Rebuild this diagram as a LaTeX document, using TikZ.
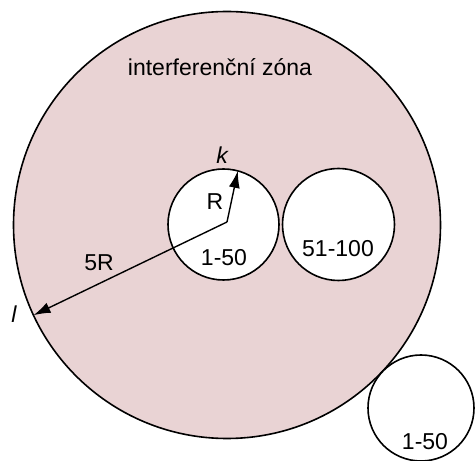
\documentclass[tikz,border=0pt]{standalone}
\usepackage{fontspec}
\setmainfont{Liberation Sans}
\usepackage{tikz}
\usetikzlibrary{arrows.meta, positioning, calc}

\definecolor{zonepink}{RGB}{233,211,212}

\begin{document}
\begin{tikzpicture}[
  x=1pt, y=1pt,
  zone/.style    = {draw, circle, line width=1.6pt, inner sep=0pt, outer sep=0pt},
  arrow/.style   = {-{Latex[length=17pt, width=11pt]}, line width=1.4pt},
  label/.style   = {font=\fontsize{23}{27}\selectfont, inner sep=0pt},
  var/.style     = {font=\fontsize{23}{27}\selectfont\itshape, inner sep=0pt}
]
\useasboundingbox (0,0) rectangle (475,461);

% ── Zones ────────────────────────────────────────────────────────────────────
\node[zone, fill=zonepink, minimum size=427pt] (big)   at (227,236)   {};
\node[zone, fill=white,    minimum size=111pt] (zone1) at (223.5,236.5) {};
\node[zone, fill=white,    minimum size=112pt] (zone2) at (338.5,236.5) {};
\node[zone, fill=white,    minimum size=106pt] (zone3) at (421,53)    {};
\coordinate (o) at (227,239);

% ── Labels ───────────────────────────────────────────────────────────────────
\node[label] (title) at (220,394) {interferenční zóna};
\node[label] (ch1)   at (224,203) {1-50};
\node[label] (ch2)   at (338,212) {51-100};
\node[label] (ch3)   at (425,19)  {1-50};
\node[label] (r)     at (215,259) {R};
\node[label] (r5)    at (99,198)  {5R};
\node[var]   (k)     at (222,306) {k};
\node[var]   (l)     at (14,147)  {l};

% ── Radii ────────────────────────────────────────────────────────────────────
\draw[arrow] (o) -- (zone1.75);
\draw[arrow] (o) -- (big.205);

\end{tikzpicture}
\end{document}
